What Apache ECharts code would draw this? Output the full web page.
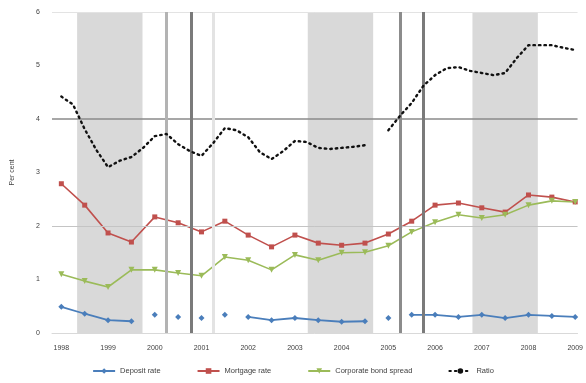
<!DOCTYPE html>
<html>
<head>
<meta charset="utf-8">
<script src="https://cdn.jsdelivr.net/npm/echarts@6/dist/echarts.min.js"></script>
<style>
  html, body { margin: 0; padding: 0; background: #fff; }
  #chart { width: 586px; height: 383px; }
</style>
</head>
<body>
<div id="chart"></div>
<script>
// Year labels, one per four quarters (quarter index 0, 4, ..., 44)
var yearLabels = ['1998', '1999', '2000', '2001', '2002', '2003', '2004', '2005', '2006', '2007', '2008', '2009'];

// Semi-annual observations (quarter index 0, 2, 4, ..., 44)
var depositRate = [0.49, 0.36, 0.24, 0.22, 0.34, 0.30, 0.28, 0.34, 0.30, 0.24, 0.28, 0.24,
                   0.21, 0.22, 0.28, 0.34, 0.34, 0.30, 0.34, 0.28, 0.34, 0.32, 0.30];
var mortgageRate = [2.79, 2.39, 1.87, 1.70, 2.17, 2.06, 1.89, 2.09, 1.83, 1.61, 1.83, 1.68,
                    1.64, 1.68, 1.85, 2.09, 2.39, 2.43, 2.34, 2.26, 2.58, 2.54, 2.45];
var bondSpread = [1.10, 0.97, 0.86, 1.18, 1.18, 1.12, 1.07, 1.42, 1.36, 1.18, 1.46, 1.36,
                  1.50, 1.51, 1.63, 1.89, 2.07, 2.21, 2.15, 2.21, 2.39, 2.47, 2.45];
// Quarters where the deposit-rate series is not reported
var depositGaps = [7, 9, 11, 13, 15, 27, 29];

// Quarterly ratio (quarter index 0..44), one missing quarter
var ratio = [4.42, 4.27, 3.81, 3.42, 3.10, 3.22, 3.29, 3.46, 3.68, 3.72, 3.53, 3.40,
             3.31, 3.55, 3.83, 3.79, 3.66, 3.38, 3.25, 3.40, 3.59, 3.57, 3.46, 3.44,
             3.46, 3.48, 3.51, null, 3.79, 4.06, 4.30, 4.62, 4.82, 4.95, 4.97, 4.90,
             4.86, 4.82, 4.86, 5.14, 5.38, 5.38, 5.38, 5.33, 5.29];

// Shaded periods and event dates, in quarter index units
var shadedPeriods = [[1.35, 6.95], [21.1, 26.7], [35.2, 40.8]];
var eventLines = [9, 11.1, 13, 29, 31];
var eventColors = ['#b3b3b3', '#7a7a7a', '#e3e3e3', '#8c8c8c', '#7a7a7a'];

var names = ['Deposit rate', 'Mortgage rate', 'Corporate bond spread', 'Ratio'];

function semiAnnual(values, gaps) {
  var pts = values.map(function (v, k) { return [k * 2, v]; });
  (gaps || []).forEach(function (g) { pts.push([g, null]); });
  pts.sort(function (a, b) { return a[0] - b[0]; });
  return pts;
}
function quarterly(values) {
  return values.map(function (v, k) { return [k, v]; });
}

var font = 'Liberation Sans, Arial, sans-serif';
var chart = echarts.init(document.getElementById('chart'), null, { renderer: 'canvas' });

chart.setOption({
  animation: false,
  textStyle: { fontFamily: font },
  grid: { left: 52, right: 6, top: 12, bottom: 50 },
  legend: {
    data: names,
    bottom: 3,
    itemWidth: 22,
    itemHeight: 7,
    itemGap: 36,
    textStyle: { fontSize: 7.5, color: '#404040', fontFamily: font }
  },
  xAxis: {
    type: 'value',
    min: -0.8,
    max: 44.2,
    splitLine: { show: false },
    axisTick: { show: false },
    axisLine: { show: true, lineStyle: { color: '#d9d9d9' } },
    axisLabel: {
      customValues: yearLabels.map(function (_, k) { return k * 4; }),
      formatter: function (v) { return yearLabels[Math.round(v / 4)]; },
      fontSize: 7,
      color: '#404040',
      margin: 12
    }
  },
  yAxis: {
    type: 'value',
    min: 0,
    max: 6,
    interval: 1,
    name: 'Per cent',
    nameLocation: 'middle',
    nameGap: 36,
    nameTextStyle: { fontSize: 7, color: '#404040' },
    splitLine: { show: false },
    axisLine: { show: false },
    axisTick: { show: false },
    axisLabel: { fontSize: 7, color: '#404040', margin: 12 }
  },
  series: [
    {
      name: 'bands',
      type: 'line',
      data: [],
      z: 1,
      silent: true,
      markArea: {
        silent: true,
        itemStyle: { color: '#d9d9d9' },
        data: shadedPeriods.map(function (p) { return [{ xAxis: p[0] }, { xAxis: p[1] }]; })
      }
    },
    {
      name: 'rules',
      type: 'line',
      data: [],
      z: 2,
      silent: true,
      markLine: {
        silent: true,
        symbol: 'none',
        label: { show: false },
        data: [
          { yAxis: 6, lineStyle: { color: '#e3e3e3', width: 1, type: 'solid' } },
          { yAxis: 4, lineStyle: { color: '#8a8a8a', width: 1.5, type: 'solid' } },
          { yAxis: 2, lineStyle: { color: '#c4c4c4', width: 1, type: 'solid' } }
        ].concat(eventLines.map(function (x, k) {
          return { xAxis: x, lineStyle: { color: eventColors[k], width: 3, type: 'solid' } };
        }))
      }
    },
    {
      name: names[0],
      type: 'line',
      z: 4,
      data: semiAnnual(depositRate, depositGaps),
      symbol: 'diamond',
      symbolSize: 6,
      color: '#4a7ebb',
      lineStyle: { width: 1.8, color: '#4a7ebb' },
      itemStyle: { color: '#4a7ebb' }
    },
    {
      name: names[1],
      type: 'line',
      z: 4,
      data: semiAnnual(mortgageRate),
      symbol: 'rect',
      symbolSize: 5,
      color: '#c0504d',
      lineStyle: { width: 1.6, color: '#c0504d' },
      itemStyle: { color: '#c0504d' }
    },
    {
      name: names[2],
      type: 'line',
      z: 4,
      data: semiAnnual(bondSpread),
      symbol: 'triangle',
      symbolRotate: 180,
      symbolSize: 6,
      color: '#9bbb59',
      lineStyle: { width: 1.6, color: '#9bbb59' },
      itemStyle: { color: '#9bbb59' }
    },
    {
      name: names[3],
      type: 'line',
      z: 5,
      data: quarterly(ratio),
      showSymbol: false,
      symbol: 'none',
      color: '#111',
      lineStyle: { width: 2.4, color: '#111', type: [1.5, 4], cap: 'round' }
    }
  ]
});
</script>
</body>
</html>
